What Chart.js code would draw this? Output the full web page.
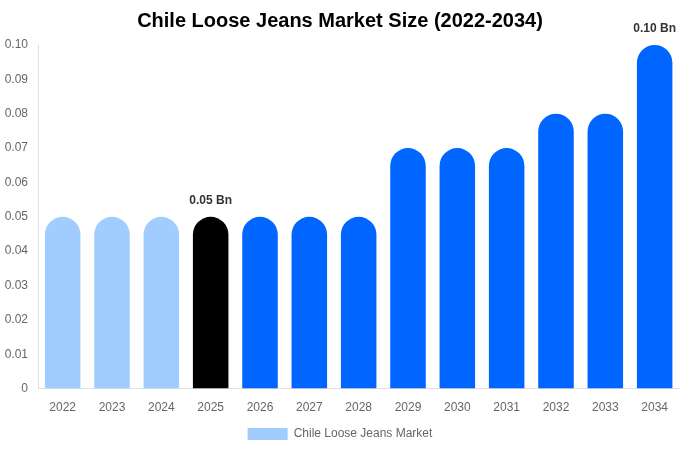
<!DOCTYPE html>
<html>
<head>
<meta charset="utf-8">
<script src="https://cdn.jsdelivr.net/npm/chart.js@4/dist/chart.umd.min.js"></script>
<style>
  html, body { margin: 0; padding: 0; background: #fff; }
  #wrap { width: 680px; height: 450px; }
</style>
</head>
<body>
<div id="wrap"><canvas id="chart"></canvas></div>
<script>
const years = ['2022', '2023', '2024', '2025', '2026', '2027', '2028', '2029', '2030', '2031', '2032', '2033', '2034'];
const marketSize = [0.05, 0.05, 0.05, 0.05, 0.05, 0.05, 0.05, 0.07, 0.07, 0.07, 0.08, 0.08, 0.10];
const yTicks = [0, 0.01, 0.02, 0.03, 0.04, 0.05, 0.06, 0.07, 0.08, 0.09, 0.10];
const labelledYears = ['2025', '2034'];

// colour by period: past light blue, current year black, forecast blue
const barColors = years.map(function (y) {
  const n = parseInt(y, 10);
  if (n < 2025) return '#a0cdfd';
  if (n === 2025) return '#000000';
  return '#0066ff';
});

// draws "0.05 Bn" above chosen bars
const valueLabels = {
  id: 'valueLabels',
  afterDatasetsDraw(chart) {
    const ctx = chart.ctx;
    const meta = chart.getDatasetMeta(0);
    ctx.save();
    ctx.font = 'bold 12px "Liberation Sans", Arial, sans-serif';
    ctx.fillStyle = '#333333';
    ctx.textAlign = 'center';
    ctx.textBaseline = 'bottom';
    meta.data.forEach(function (bar, i) {
      if (labelledYears.indexOf(years[i]) === -1) return;
      ctx.fillText(marketSize[i].toFixed(2) + ' Bn', bar.x, bar.y - 10);
    });
    ctx.restore();
  }
};

const ctx = document.getElementById('chart').getContext('2d');
new Chart(ctx, {
  type: 'bar',
  data: {
    labels: years,
    datasets: [{
      label: 'Chile Loose Jeans Market',
      data: marketSize,
      backgroundColor: barColors,
      borderRadius: 40,
      barPercentage: 0.9,
      categoryPercentage: 0.8
    }]
  },
  options: {
    responsive: true,
    maintainAspectRatio: false,
    animation: false,
    layout: { padding: { left: 0, right: 0, top: 0, bottom: 0 } },
    plugins: {
      title: {
        display: true,
        text: 'Chile Loose Jeans Market Size (2022-2034)',
        color: '#000',
        font: { family: '"Liberation Sans", Arial, sans-serif', size: 20, weight: 'bold' },
        padding: { top: 9, bottom: 12 }
      },
      legend: {
        display: true,
        position: 'bottom',
        labels: {
          color: '#666',
          boxWidth: 40,
          boxHeight: 12,
          padding: 1,
          font: { family: '"Liberation Sans", Arial, sans-serif', size: 12 },
          generateLabels: function () {
            return [{ text: 'Chile Loose Jeans Market', fillStyle: '#a0cdfd', strokeStyle: '#a0cdfd', lineWidth: 0, fontColor: '#666' }];
          }
        }
      },
      tooltip: { enabled: false }
    },
    scales: {
      x: {
        grid: { display: false, drawTicks: false },
        border: { color: '#e0e0e0' },
        ticks: { color: '#666', padding: 12, font: { family: '"Liberation Sans", Arial, sans-serif', size: 12 } }
      },
      y: {
        min: 0,
        max: 0.10,
        grid: { display: false, drawTicks: false },
        border: { color: '#e0e0e0' },
        afterBuildTicks: function (axis) {
          axis.ticks = yTicks.map(function (v) { return { value: v }; });
        },
        afterFit: function (axis) { axis.width = 38; },
        ticks: {
          color: '#666',
          padding: 10,
          font: { family: '"Liberation Sans", Arial, sans-serif', size: 12 },
          callback: function (v) { return v === 0 ? '0' : v.toFixed(2); }
        }
      }
    }
  },
  plugins: [valueLabels]
});
</script>
</body>
</html>
